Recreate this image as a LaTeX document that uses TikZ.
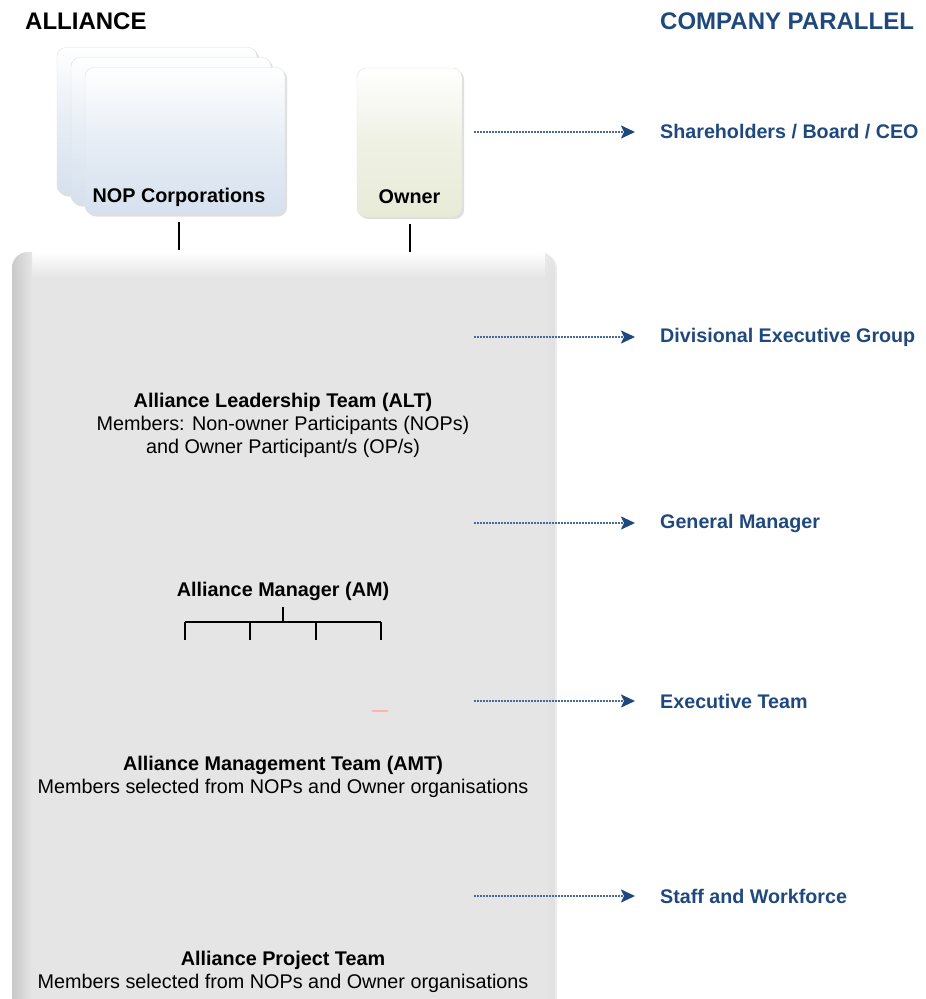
\documentclass[tikz,border=0pt]{standalone}
\usepackage{fontspec}
\setmainfont{Liberation Sans}
\usepackage{tikz}
\usetikzlibrary{arrows.meta,positioning,shadows,calc}
\definecolor{parblue}{RGB}{31,73,125}
\definecolor{dotblue}{RGB}{70,105,160}
\definecolor{boxgray}{RGB}{229,229,229}
\definecolor{nopblue}{RGB}{214,225,238}
\definecolor{ownercream}{RGB}{232,235,216}
\tikzset{>={Stealth[inset=3pt,length=14pt,width=13pt]}}
\tikzset{
    headtext/.style={font=\fontsize{24}{28}\selectfont\bfseries, anchor=west, inner sep=0pt},
    partext/.style={font=\fontsize{19.7}{23}\selectfont\bfseries, text=parblue, anchor=west, inner sep=0pt},
    teamtext/.style={font=\fontsize{19.8}{23}\selectfont, align=center, inner sep=0pt},
    boxtext/.style={font=\fontsize{19.8}{22}\selectfont\bfseries, inner sep=0pt},
    nopbox/.style={rounded corners=9pt, draw=gray!25, top color=white, bottom color=nopblue,
        middle color=nopblue!60, minimum width=200pt, minimum height=147pt, inner sep=0pt,
        drop shadow={opacity=0.25, shadow xshift=2pt, shadow yshift=-2pt}},
    ownerbox/.style={nopbox, top color=white, bottom color=ownercream, middle color=ownercream!70,
        minimum width=105pt, minimum height=149pt},
    stem/.style={line width=2pt, shorten <=7pt},
    parallel/.style={->, dotblue, line width=2pt, dash pattern=on 2pt off 1pt, shorten >=25pt,
        arrows={-Stealth[inset=3pt,length=14pt,width=13pt,parblue]}},
}
\begin{document}
\begin{tikzpicture}[x=1pt,y=-1pt]
    \useasboundingbox (0,0) rectangle (926,999);
    \clip (0,0) rectangle (926,999);
    % headings
    \node[headtext] (alliancehead) at (25,21) {ALLIANCE};
    \node[headtext, text=parblue] (parhead) at (660,21) {COMPANY PARALLEL};
    % alliance body
    \node[rounded corners=16pt, fill=boxgray, minimum width=543pt, minimum height=800pt,
          inner sep=0pt, drop shadow={opacity=0.15, shadow xshift=2pt, shadow yshift=-1pt}]
          (alliance) at (283.5,652) {};
    \begin{scope}
        \clip[rounded corners=16pt] (12,252) rectangle (555,1060);
        \shade[top color=white, bottom color=boxgray] (12,252) rectangle (555,278);
        \shade[left color=gray!45, right color=boxgray, opacity=0.9] (12,252) rectangle (32,1060);
        \shade[right color=gray!25, left color=boxgray, opacity=0.8] (545,252) rectangle (555,1060);
    \end{scope}
    % participants
    \node[nopbox] (nop1) at (157,121) {};
    \node[nopbox] (nop2) at (171,131) {};
    \node[nopbox] (nop3) at (185,141) {};
    \node[boxtext, above=8pt of nop3.south, xshift=-6pt] {NOP Corporations};
    \node[ownerbox] (owner) at (409.5,142.5) {};
    \node[boxtext, above=13pt of owner.south] {Owner};
    \draw[stem] (nop3.south -| 179,0) -- (179,250);
    \draw[stem] (owner.south) -- (owner.south |- alliance.north);
    % teams
    \node[teamtext] (alt) at (283,425) {\textbf{Alliance Leadership Team (ALT)}\\
        Members: Non-owner Participants (NOPs)\\ and Owner Participant/s (OP/s)};
    \node[teamtext] (am) at (283,591) {\textbf{Alliance Manager (AM)}};
    \coordinate (hub) at (283,622);
    \foreach \x [count=\i] in {185,250,316,381}
        \coordinate (b\i) at (\x,640);
    \draw[line width=1.3pt] ([yshift=-7pt]am.south) -- (hub);
    \draw[line width=1.3pt] (b1 |- hub) -- (b4 |- hub);
    \foreach \i in {1,...,4}
        \draw[line width=1.3pt] (b\i |- hub) -- (b\i);
    \draw[red!30, line width=1.2pt] (372,711) -- (388,711);
    \node[teamtext] (amt) at (283,777) {\textbf{Alliance Management Team (AMT)}\\
        Members selected from NOPs and Owner organisations};
    \node[teamtext] (apt) at (283,972) {\textbf{Alliance Project Team}\\
        Members selected from NOPs and Owner organisations};
    % company parallel
    \node[partext] (shb) at (660,132) {Shareholders / Board / CEO};
    \node[partext] (deg) at (660,337) {Divisional Executive Group};
    \node[partext] (gm) at (660,523) {General Manager};
    \node[partext] (et) at (660,701) {Executive Team};
    \node[partext] (sw) at (660,896) {Staff and Workforce};
    \foreach \t in {shb,deg,gm,et,sw}{
        \coordinate (from-\t) at (474,0 |- \t.west);
        \draw[parallel] (from-\t) -- (\t.west);
    }
\end{tikzpicture}
\end{document}
